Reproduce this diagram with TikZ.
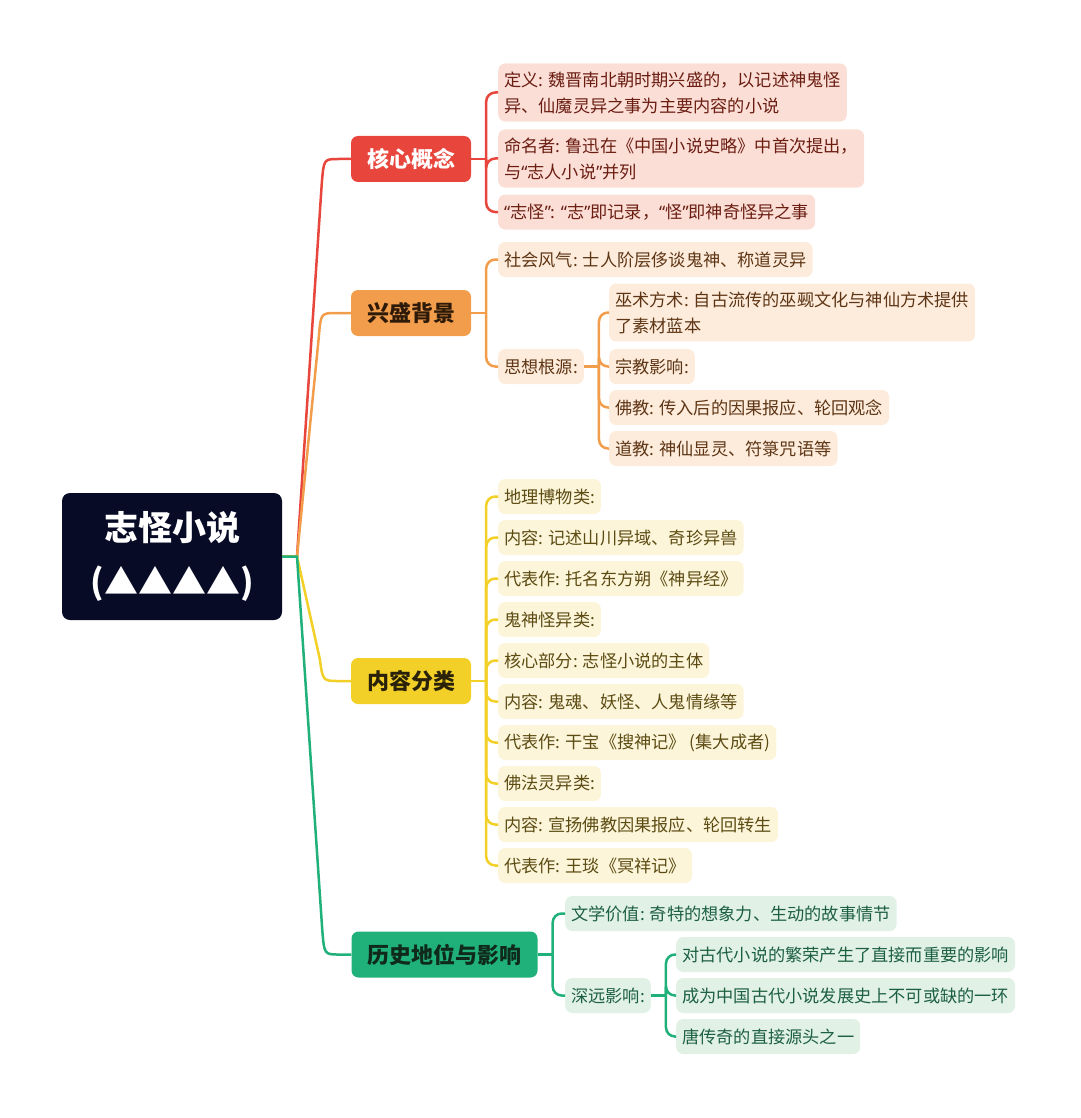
\documentclass[tikz,border=0pt]{standalone}
\usepackage{fontspec}
\setmainfont{Noto Sans CJK SC}
\newfontfamily\qfont{Noto Sans}
\newcommand{\qo}{{\qfont “}}
\newcommand{\qc}{{\qfont ”}}
\usetikzlibrary{calc}
\definecolor{rootC}{HTML}{070B26}
\definecolor{cR}{HTML}{E8453C}
\definecolor{cO}{HTML}{F29D4B}
\definecolor{cY}{HTML}{F2D027}
\definecolor{cG}{HTML}{20B07A}
\definecolor{lR}{HTML}{FBDFD6}
\definecolor{lO}{HTML}{FDECDC}
\definecolor{lY}{HTML}{FCF5DA}
\definecolor{lG}{HTML}{E1F1E6}
\definecolor{tR}{HTML}{6B1D12}
\definecolor{tO}{HTML}{5E3514}
\definecolor{tY}{HTML}{5C4B12}
\definecolor{tG}{HTML}{1D6040}
\definecolor{mO}{HTML}{2E1A08}
\definecolor{mY}{HTML}{2A2208}
\definecolor{mG}{HTML}{0F2A1C}
\tikzset{
  leaf/.style={rounded corners=7pt, inner xsep=6pt, inner ysep=8pt, minimum height=35pt, anchor=west, align=left, font=\fontsize{17.2}{26}\selectfont},
  leafR/.style={leaf, fill=lR, text=tR},
  leafO/.style={leaf, fill=lO, text=tO},
  leafY/.style={leaf, fill=lY, text=tY},
  leafG/.style={leaf, fill=lG, text=tG},
  mainbox/.style={rounded corners=7pt, minimum height=46pt, inner xsep=16pt, font=\bfseries\fontsize{22}{26}\selectfont},
  lnR/.style={draw=cR, line width=2.5pt},
  lnO/.style={draw=cO, line width=2.5pt},
  lnY/.style={draw=cY, line width=2.5pt},
  lnG/.style={draw=cG, line width=2.5pt},
  br/.style={rounded corners=9pt},
}
\begin{document}
\begin{tikzpicture}[x=1pt,y=-1pt]
\useasboundingbox (0,0) rectangle (1080,1118);
% root
\node[fill=rootC, rounded corners=8pt, minimum width=220pt, minimum height=127pt, text=white, align=center, font=\bfseries\fontsize{34}{54}\selectfont] (root) at (172,556.5) {志怪小说\\(▲▲▲▲)};
\coordinate (rj) at (297,556.5);
% main nodes
\node[mainbox, fill=cR, text=white] (k1) at (411,159) {核心概念};
\node[mainbox, fill=cO, text=mO] (k2) at (411,313) {兴盛背景};
\node[mainbox, fill=cY, text=mY] (k3) at (411,681) {内容分类};
\node[mainbox, fill=cG, text=mG] (k4) at (444.5,954.5) {历史地位与影响};
% root connectors
\draw[lnR] (root.east) -- (rj) -- ($(k1.west)+(-29,24)$) .. controls ($(k1.west)+(-27,0)$) .. ($(k1.west)+(-12,0)$) -- (k1.west);
\draw[lnO] (root.east) -- (rj) -- ($(k2.west)+(-32,24)$) .. controls ($(k2.west)+(-30,0)$) .. ($(k2.west)+(-14,0)$) -- (k2.west);
\draw[lnY] (root.east) -- (rj) -- ($(k3.west)+(-31,-22)$) .. controls ($(k3.west)+(-28,0)$) .. ($(k3.west)+(-12,0)$) -- (k3.west);
\draw[lnG] (root.east) -- (rj) -- ($(k4.west)+(-29,-24)$) .. controls ($(k4.west)+(-27,0)$) .. ($(k4.west)+(-12,0)$) -- (k4.west);
% ---- core concept
\node[leafR] (a1) at (498,92.5) {定义: 魏晋南北朝时期兴盛的，以记述神鬼怪\\异、仙魔灵异之事为主要内容的小说};
\node[leafR] (a2) at (498,158.5) {命名者: 鲁迅在《中国小说史略》中首次提出，\\与\qo 志人小说\qc 并列};
\node[leafR] (a3) at (498,212) {\qo 志怪\qc: \qo 志\qc 即记录，\qo 怪\qc 即神奇怪异之事};
\coordinate (j1) at ($(k1.east)+(15,0)$);
\draw[lnR] (k1.east) -- (j1);
\foreach \c in {a1,a2,a3} \draw[lnR,br] (j1) |- (\c.west);
% ---- background
\node[leafO] (b1) at (498,259.5) {社会风气: 士人阶层侈谈鬼神、称道灵异};
\node[leafO] (b2) at (498,366.5) {思想根源:};
\node[leafO] (b21) at (609,312.5) {巫术方术: 自古流传的巫觋文化与神仙方术提供\\了素材蓝本};
\node[leafO] (b22) at (609,366.5) {宗教影响:};
\node[leafO] (b23) at (609,407.5) {佛教: 传入后的因果报应、轮回观念};
\node[leafO] (b24) at (609,448.5) {道教: 神仙显灵、符箓咒语等};
\coordinate (j2) at ($(k2.east)+(15,0)$);
\draw[lnO] (k2.east) -- (j2);
\foreach \c in {b1,b2} \draw[lnO,br] (j2) |- (\c.west);
\coordinate (j21) at ($(b2.east)+(15,0)$);
\draw[lnO] (b2.east) -- (j21);
\foreach \c in {b21,b22,b23,b24} \draw[lnO,br] (j21) |- (\c.west);
% ---- categories
\node[leafY] (c1) at (498,496.5) {地理博物类:};
\node[leafY] (c2) at (498,537.5) {内容: 记述山川异域、奇珍异兽};
\node[leafY] (c3) at (498,578.5) {代表作: 托名东方朔《神异经》};
\node[leafY] (c4) at (498,619.5) {鬼神怪异类:};
\node[leafY] (c5) at (498,660.5) {核心部分: 志怪小说的主体};
\node[leafY] (c6) at (498,701.5) {内容: 鬼魂、妖怪、人鬼情缘等};
\node[leafY] (c7) at (498,742.5) {代表作: 干宝《搜神记》 (集大成者)};
\node[leafY] (c8) at (498,783.5) {佛法灵异类:};
\node[leafY] (c9) at (498,824.5) {内容: 宣扬佛教因果报应、轮回转生};
\node[leafY] (c10) at (498,865.5) {代表作: 王琰《冥祥记》};
\coordinate (j3) at ($(k3.east)+(15,0)$);
\draw[lnY] (k3.east) -- (j3);
\foreach \c in {c1,c2,c3,c4,c5,c6,c7,c8,c9,c10} \draw[lnY,br] (j3) |- (\c.west);
% ---- history
\node[leafG] (d1) at (565,913.5) {文学价值: 奇特的想象力、生动的故事情节};
\node[leafG] (d2) at (565,995.5) {深远影响:};
\node[leafG] (d21) at (676,954.5) {对古代小说的繁荣产生了直接而重要的影响};
\node[leafG] (d22) at (676,995.5) {成为中国古代小说发展史上不可或缺的一环};
\node[leafG] (d23) at (676,1036.5) {唐传奇的直接源头之一};
\coordinate (j4) at ($(k4.east)+(15,0)$);
\draw[lnG] (k4.east) -- (j4);
\foreach \c in {d1,d2} \draw[lnG,br] (j4) |- (\c.west);
\coordinate (j41) at ($(d2.east)+(15,0)$);
\draw[lnG] (d2.east) -- (j41);
\foreach \c in {d21,d22,d23} \draw[lnG,br] (j41) |- (\c.west);
\end{tikzpicture}
\end{document}
